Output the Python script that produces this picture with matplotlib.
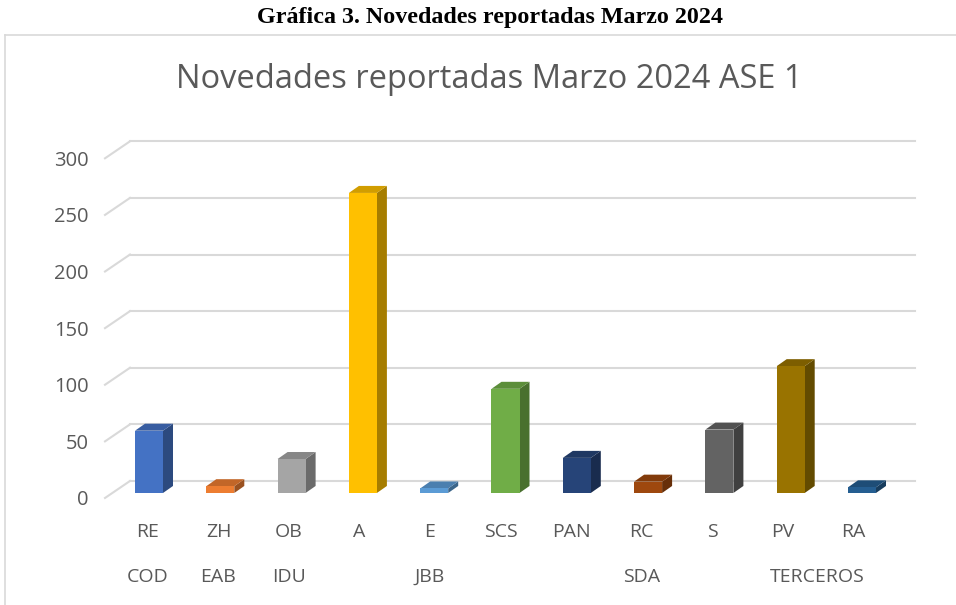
import matplotlib
matplotlib.use("Agg")
import matplotlib.pyplot as plt
from matplotlib.patches import Polygon
from matplotlib.lines import Line2D
from matplotlib.colors import to_rgb
import matplotlib.transforms as mtransforms

# datos
categorias = ["RE", "ZH", "OB", "A", "E", "SCS", "PAN", "RC", "S", "PV", "RA"]
valores = [55, 6, 30, 265, 4, 92, 31, 10, 56, 112, 5]
colores = ["#4472C4", "#ED7D31", "#A5A5A5", "#FFC000", "#5B9BD5", "#70AD47",
           "#264478", "#9E480E", "#636363", "#997300", "#255E91"]
grupos = ["COD", "EAB", "IDU", "JBB", "SDA", "TERCEROS"]
grupos_pos = [0, 1, 2, 4, 7, 9.5]
yticks = [0, 50, 100, 150, 200, 250, 300]

gris = "#595959"
grid_c = "#D9D9D9"
fuente = ["Open Sans", "DejaVu Sans"]

W, H = 956, 605
fig = plt.figure(figsize=(W / 100, H / 100), dpi=100)

# caja del grafico (borde gris claro)
fig.add_artist(Line2D([5 / W, 5 / W], [0, 1 - 35 / H], color=grid_c, lw=1.2))
fig.add_artist(Line2D([5 / W, 1], [1 - 35 / H, 1 - 35 / H], color=grid_c, lw=1.2))

fig.text(490 / W, 1 - 18 / H, "Gráfica 3. Novedades reportadas Marzo 2024",
         ha="center", va="center", fontsize=17.3, fontweight="bold",
         family="Liberation Serif")
fig.text(489 / W, 1 - 80 / H, "Novedades reportadas Marzo 2024 ASE 1",
         ha="center", va="center", fontsize=23.5, color=gris, family=fuente)

paso = 71.3
ax = fig.add_axes([100 / W, 1 - 505 / H, 820 / W, 375 / H])
x0 = (100 - 149) / paso
ax.set_xlim(x0, (920 - 149) / paso)
ax.set_ylim(-6.2, 325)
for s in ax.spines.values():
    s.set_visible(False)

# profundidad de la pared del fondo
px_x = 1 / paso
px_y = 1 / 1.132
bx, by = 25 * px_x, 17 * px_y
fx = x0 + 5 * px_x
for v in yticks:
    ax.plot([fx, fx + bx], [v, v + by], color=grid_c, lw=1.5, zorder=1)
    ax.plot([fx + bx, (915 - 149) / paso], [v + by, v + by], color=grid_c, lw=1.5, zorder=1)

# barras 3d
w = 14 * px_x
dx, dy = 10 * px_x, 7 * px_y
base = 5 * px_y
for i, (v, c) in enumerate(zip(valores, colores)):
    r, g, b = to_rgb(c)
    lado = (r * 0.65, g * 0.65, b * 0.65)
    tapa = (r * 0.82, g * 0.82, b * 0.82)
    y1 = base + v
    ax.add_patch(Polygon([(i + w, base), (i + w + dx, base + dy),
                          (i + w + dx, y1 + dy), (i + w, y1)],
                         closed=True, fc=lado, ec="none", zorder=3))
    ax.add_patch(Polygon([(i - w, y1), (i - w + dx, y1 + dy),
                          (i + w + dx, y1 + dy), (i + w, y1)],
                         closed=True, fc=tapa, ec="none", zorder=3))
    ax.add_patch(Polygon([(i - w, base), (i + w, base), (i + w, y1), (i - w, y1)],
                         closed=True, fc=c, ec="none", zorder=4))

ax.set_yticks(yticks)
ax.set_yticklabels([str(t) for t in yticks])
ax.set_xticks([])
ax.tick_params(length=0, labelsize=14.5, labelcolor=gris, pad=8)
for lab in ax.get_yticklabels():
    lab.set_family(fuente)

# etiquetas de categoria (paso de etiquetas algo menor que el de barras)
def pos_etiqueta(k):
    return (148 + 70.5 * k - 149) / paso

trans = mtransforms.blended_transform_factory(ax.transData, ax.transAxes)
for k, cat in enumerate(categorias):
    ax.text(pos_etiqueta(k), (505 - 532) / 375, cat, transform=trans,
            ha="center", va="center", fontsize=14, color=gris, family=fuente)
for g, p in zip(grupos, grupos_pos):
    ax.text(pos_etiqueta(p), (505 - 577) / 375, g, transform=trans,
            ha="center", va="center", fontsize=14, color=gris, family=fuente)

fig.savefig("out.png", dpi=100)
